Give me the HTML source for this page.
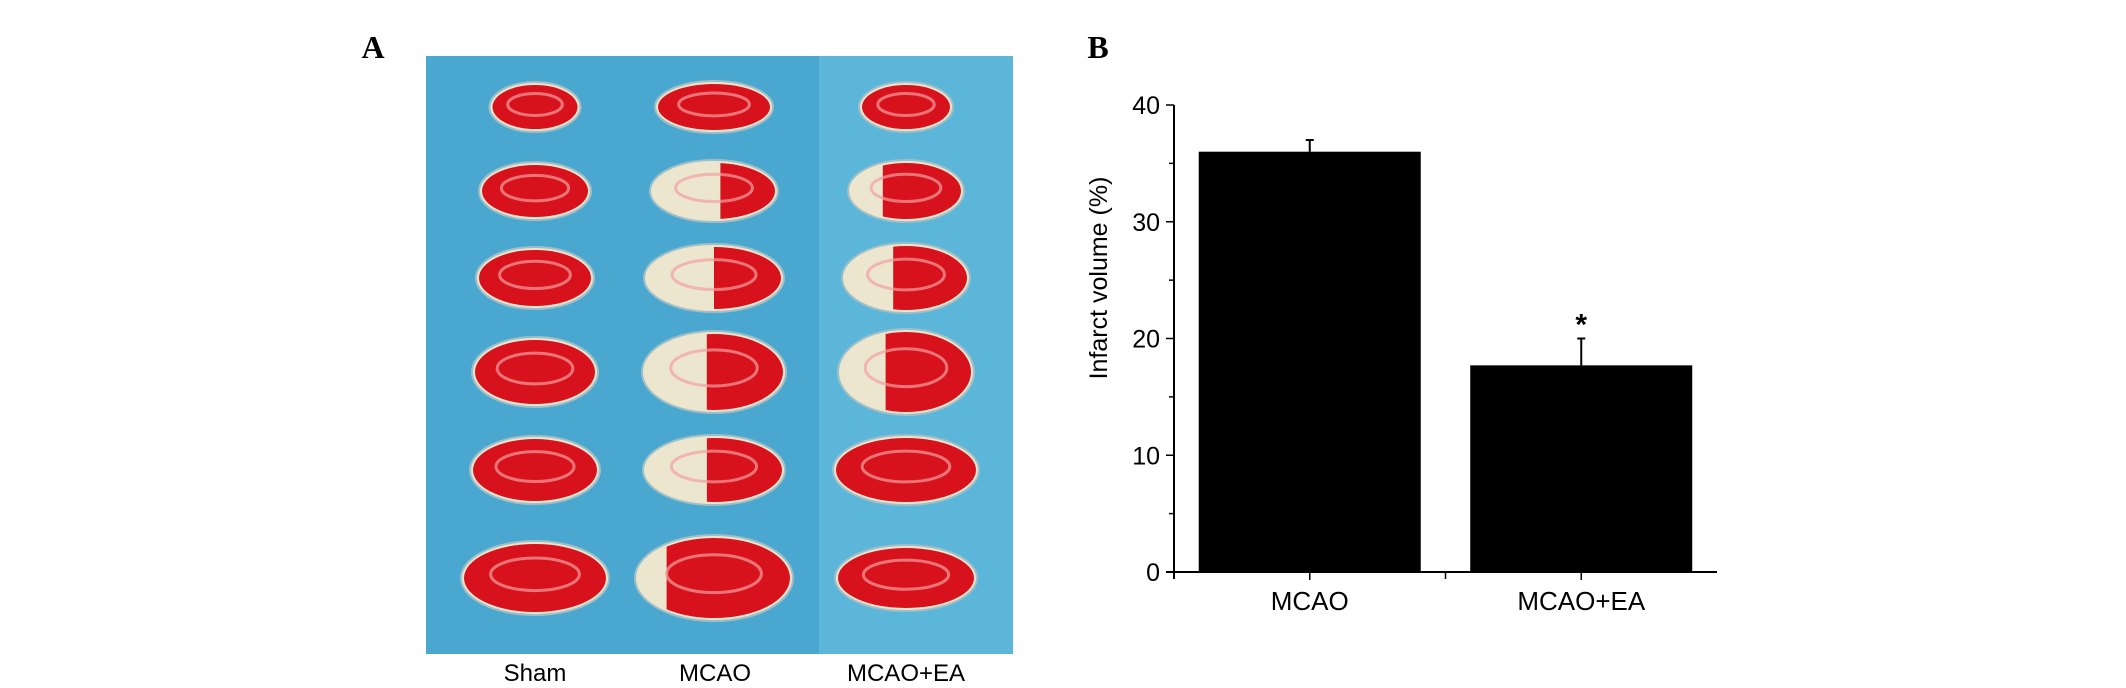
<!DOCTYPE html>
<html><head><meta charset="utf-8"><style>
body{margin:0;background:#fff;width:2126px;height:688px;overflow:hidden}
svg{display:block}
text{font-family:"Liberation Sans",sans-serif}
</style></head><body>
<svg id="fig" width="2126" height="688">
<text x="373" y="58" font-family="Liberation Serif" font-weight="bold" font-size="32" text-anchor="middle" style="font-family:'Liberation Serif',serif">A</text>
<text x="1098" y="58" font-weight="bold" font-size="32" text-anchor="middle" style="font-family:'Liberation Serif',serif">B</text>
<g id="photo">
<rect x="426" y="56" width="587" height="598" fill="#4aa8d0"/>
<rect x="819" y="56" width="194" height="598" fill="#5cb6da"/>
</g>
<text x="535" y="681" font-size="24" text-anchor="middle">Sham</text>
<text x="715" y="681" font-size="24" text-anchor="middle">MCAO</text>
<text x="906" y="681" font-size="24" text-anchor="middle">MCAO+EA</text>
<g id="chart"></g>
</svg>
<script>
const categories=["MCAO","MCAO+EA"];
const values=[36.0,17.7];
const errors=[1.0,2.3];
const significance=["","*"];
const yTicks=[0,10,20,30,40];
const yMinorTicks=[5,15,25,35];
const NS="http://www.w3.org/2000/svg";
function mk(tag,attrs,parent){const e=document.createElementNS(NS,tag);for(const k in attrs)e.setAttribute(k,attrs[k]);parent.appendChild(e);return e;}
const g=document.getElementById('chart');
const x0=1174,x1=1717,y0=572,y40=105;
function ys(v){return y0-(v/40)*(y0-y40);}
const slot=(x1-x0)/categories.length;
function xc(i){return x0+slot*(i+0.5);}
const bw=222;
// bars
categories.forEach((c,i)=>{
  const cx=xc(i);
  const r=mk('rect',{x:cx-bw/2,y:ys(values[i]),width:bw,height:y0-ys(values[i]),fill:'#000'},g);
  
  
  const e=mk('line',{x1:cx,x2:cx,y1:ys(values[i]),y2:ys(values[i]+errors[i]),stroke:'#000','stroke-width':2},g);
  
  
  const cap=mk('line',{x1:cx-4,x2:cx+4,y1:ys(values[i]+errors[i]),y2:ys(values[i]+errors[i]),stroke:'#000','stroke-width':2},g);
  
  
  if(significance[i]){
    const s=mk('text',{x:cx,y:ys(values[i]+errors[i])-4,'font-size':30,'font-weight':'bold','text-anchor':'middle'},g);
    s.textContent=significance[i];
    
    
  }
  const t=mk('line',{x1:cx,x2:cx,y1:y0,y2:y0+8,stroke:'#000','stroke-width':1.5},g);
  
  
  const l=mk('text',{x:cx,y:y0+38,'font-size':26,'text-anchor':'middle'},g);
  l.textContent=c;
  
  
});
const mt=mk('line',{x1:x0+slot,x2:x0+slot,y1:y0,y2:y0+7,stroke:'#000','stroke-width':1.5},g);


const xa=mk('line',{x1:x0-8,x2:x1,y1:y0,y2:y0,stroke:'#000','stroke-width':2},g);


const ya=mk('line',{x1:x0,x2:x0,y1:y40,y2:y0+7,stroke:'#000','stroke-width':2},g);


yTicks.forEach(v=>{
  const t=mk('line',{x1:x0-8,x2:x0,y1:ys(v),y2:ys(v),stroke:'#000','stroke-width':1.5},g);
  
  
  const l=mk('text',{x:x0-14,y:ys(v)+9,'font-size':25,'text-anchor':'end'},g);
  l.textContent=v;
  
  
});
yMinorTicks.forEach(v=>{
  const t=mk('line',{x1:x0-5,x2:x0,y1:ys(v),y2:ys(v),stroke:'#000','stroke-width':1.5},g);
  
  
});
const yt=mk('text',{x:0,y:0,'font-size':25,'text-anchor':'middle',transform:'translate(1107,278) rotate(-90)'},g);
yt.textContent='Infarct volume (%)';



// photo slices
const p=document.getElementById('photo');
const colX=[535,714,906];
const rowY=[107,191,278,372,470,578];
const widths=[[91,118,94],[112,128,116],[118,140,128],[126,144,136],[130,142,146],[148,158,142]];
const heights=[[50,52,50],[58,62,62],[62,68,70],[70,82,86],[68,70,70],[74,86,66]];
const whiteFrac=[[0,0,0],[0,0.55,0.3],[0,0.5,0.4],[0,0.45,0.35],[0,0.45,0],[0,0.2,0]];
const defs=mk('defs',{},p);
rowY.forEach((yy,r)=>{colX.forEach((xx,c)=>{
  const w=widths[r][c],h=heights[r][c];
  const id='cl'+r+'_'+c;
  const cp=mk('clipPath',{id:id},defs);
  mk('rect',{x:xx-w/2+w*whiteFrac[r][c],y:yy-h,width:w,height:h*2},cp);
  const s=mk('ellipse',{cx:xx,cy:yy,rx:w/2,ry:h/2,fill:'#ece6cf',stroke:'#9fbfc8','stroke-width':2},p);
  
  
  const red=mk('ellipse',{cx:xx,cy:yy,rx:w/2-3,ry:h/2-3,fill:'#d8121c','clip-path':'url(#'+id+')'},p);
  
  
  const hl=mk('ellipse',{cx:xx,cy:yy-h*0.05,rx:w*0.3,ry:h*0.22,fill:'none',stroke:'#f2a0a0','stroke-width':3,opacity:0.7},p);
  
  
});});
</script>
</body></html>
